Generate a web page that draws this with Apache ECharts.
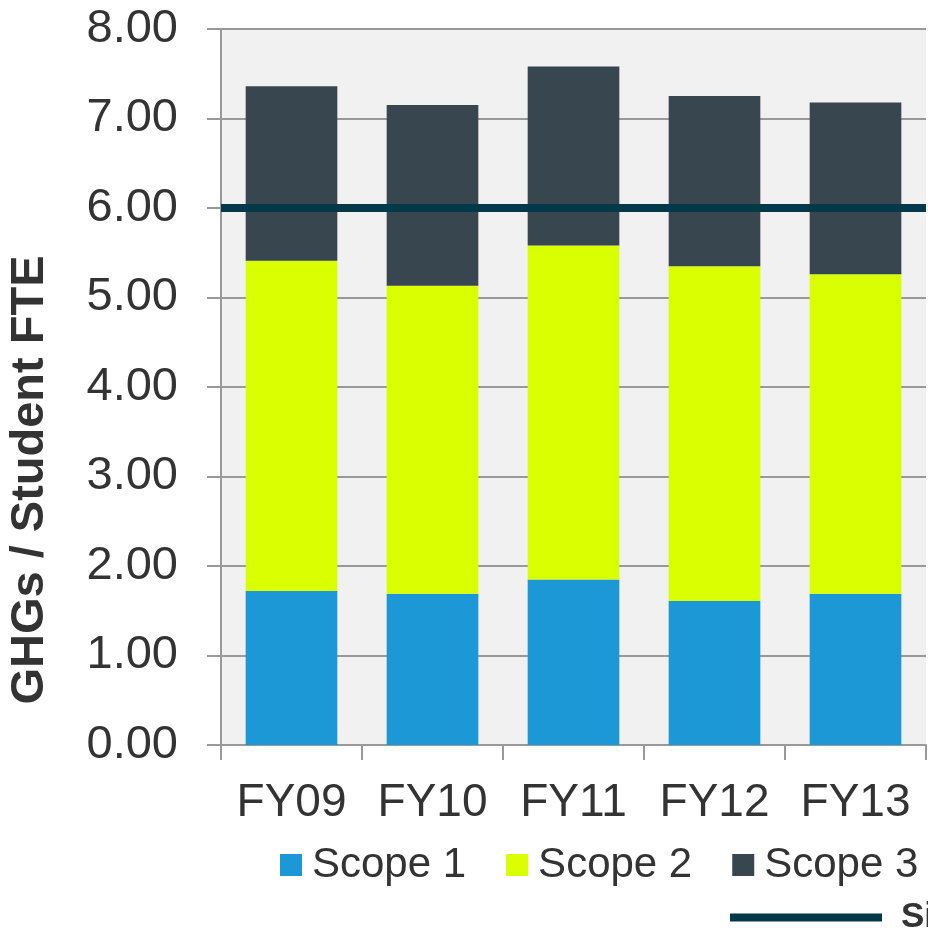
<!DOCTYPE html>
<html>
<head>
<meta charset="utf-8">
<script src="https://cdn.jsdelivr.net/npm/echarts@6/dist/echarts.min.js"></script>
<style>html,body{margin:0;padding:0;background:#fff;}#c{width:928px;height:934px;}</style>
</head>
<body>
<div id="c"></div>
<script>
const categories = ['FY09', 'FY10', 'FY11', 'FY12', 'FY13'];
const scope1 = [1.72, 1.69, 1.85, 1.61, 1.69];
const scope2 = [3.69, 3.44, 3.73, 3.74, 3.57];
const scope3 = [1.95, 2.02, 2.00, 1.90, 1.92];
const benchmark = [6.00];
const yTicks = [0, 1, 2, 3, 4, 5, 6, 7, 8];
const yTitle = 'GHGs / Student FTE';

const chart = echarts.init(document.getElementById('c'));
const font = 'Liberation Sans, Arial, sans-serif';
chart.setOption({
  animation: false,
  textStyle: { fontFamily: font },
  grid: { left: 221, top: 29, width: 705, height: 716, backgroundColor: '#f1f1f1', show: true, borderWidth: 0, outerBoundsMode: 'none', containLabel: false },
  graphic: [{
    type: 'text', x: 30, y: 480, rotation: Math.PI / 2,
    style: { text: yTitle, fontSize: 47, fontWeight: 'bold', fill: '#333', fontFamily: font, align: 'center', verticalAlign: 'middle' }
  }],
  legend: [
    {
      data: ['Scope 1', 'Scope 2', 'Scope 3'],
      left: 280, top: 844, padding: 0,
      icon: 'rect', itemWidth: 22, itemHeight: 22, itemGap: 40,
      textStyle: { fontSize: 42, color: '#333', fontFamily: font, padding: [0, 0, 0, 5] }
    },
    {
      data: ['Sightlines Peer Average'],
      left: 730, top: 900, padding: 0,
      icon: 'rect', itemWidth: 152, itemHeight: 8,
      textStyle: { fontSize: 35, color: '#333', fontWeight: 'bold', fontFamily: font, padding: [0, 0, 0, 14] }
    }
  ],
  xAxis: {
    type: 'category', data: categories,
    axisLine: { lineStyle: { color: '#999', width: 2 } },
    axisTick: { show: true, interval: 0, length: 15, lineStyle: { color: '#999', width: 2 } },
    axisLabel: { interval: 0, fontSize: 46, color: '#333', margin: 35, fontFamily: font }
  },
  yAxis: {
    type: 'value', min: 0, max: 8, interval: 1,
    axisLine: { show: true, lineStyle: { color: '#999', width: 2 } },
    axisTick: { show: true, length: 14, lineStyle: { color: '#999', width: 2 } },
    splitLine: { show: true, lineStyle: { color: '#999', width: 2 } },
    axisLabel: { fontSize: 47, color: '#333', margin: 43, fontFamily: font,
      formatter: v => yTicks.includes(v) ? v.toFixed(2) : '' }
  },
  series: [
    { name: 'Scope 1', type: 'bar', stack: 's', data: scope1, barWidth: '65%', itemStyle: { color: '#1b98d5' } },
    { name: 'Scope 2', type: 'bar', stack: 's', data: scope2, barWidth: '65%', itemStyle: { color: '#d9ff00' } },
    { name: 'Scope 3', type: 'bar', stack: 's', data: scope3, barWidth: '65%', itemStyle: { color: '#37464f' } },
    { name: 'Sightlines Peer Average', type: 'line', data: [], itemStyle: { color: '#04394b' },
      lineStyle: { color: '#04394b', width: 8 },
      markLine: { silent: true, symbol: 'none', label: { show: false },
        lineStyle: { color: '#04394b', width: 8, type: 'solid' },
        data: [{ yAxis: benchmark[0] }] } }
  ]
});
</script>
</body>
</html>
